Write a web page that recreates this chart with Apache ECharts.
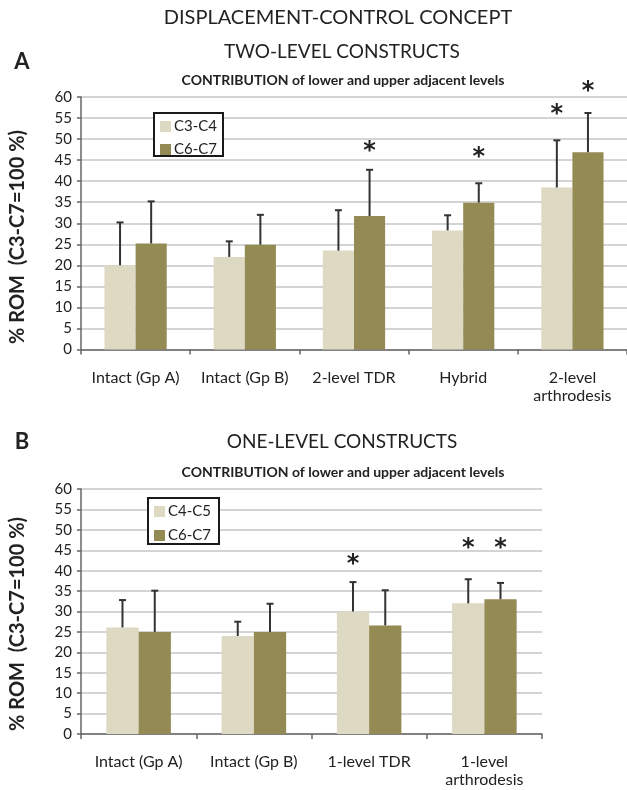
<!DOCTYPE html>
<html><head><meta charset="utf-8">
<script src="https://cdn.jsdelivr.net/npm/echarts@6/dist/echarts.min.js"></script>
<style>html,body{margin:0;padding:0;background:#fff}#c{width:627px;height:790px}</style>
</head><body><div id="c"></div>
<script>
// ---------- data ----------
const yTicks = [0, 60, 5]; // min, max, interval

const catsA = ['Intact (Gp A)', 'Intact (Gp B)', '2-level TDR', 'Hybrid', '2-level\narthrodesis'];
const a_C34 = [20.0, 22.0, 23.5, 28.3, 38.5];
const a_C34_errTop = [30.2, 25.7, 33.1, 31.9, 49.7];
const a_C67 = [25.2, 24.9, 31.7, 34.9, 46.9];
const a_C67_errTop = [35.2, 32.0, 42.7, 39.5, 56.2];
const a_C34_star = [null, null, null, null, 57.2];
const a_C67_star = [null, null, 48.5, 46.9, 62.6];

const catsB = ['Intact (Gp A)', 'Intact (Gp B)', '1-level TDR', '1-level\narthrodesis'];
const b_C45 = [26.1, 24.0, 30.0, 32.0];
const b_C45_errTop = [32.8, 27.5, 37.2, 37.9];
const b_C67 = [25.0, 25.0, 26.6, 33.0];
const b_C67_errTop = [35.1, 31.9, 35.2, 37.0];
const b_C45_star = [null, null, 42.9, 46.8];
const b_C67_star = [null, null, null, 46.8];

// ---------- style ----------
const FONT = 'Lato, "Open Sans", sans-serif';
const LIGHT = '#DDD9C3', DARK = '#948A54';
const GAP_A = 0.43, GAP_B = 0.44;
const AXIS_COL = '#666', GRID_COL = '#c6c6c6', TXT = '#222';

function errSeries(axisIdx, vals, tops, side, gap) {
  return {
    type: 'custom', xAxisIndex: axisIdx, yAxisIndex: axisIdx, z: 5,
    data: vals.map((v, i) => [i, v, tops[i]]),
    encode: { x: 0, y: [1, 2] },
    renderItem(params, api) {
      const i = api.value(0);
      const b = api.coord([i, api.value(1)]);
      const t = api.coord([i, api.value(2)]);
      const bw = api.size([1, 0])[0];
      const barW = bw * (1 - gap) / 2;
      const x = b[0] + side * barW / 2;
      const st = { stroke: '#333', lineWidth: 2 };
      return { type: 'group', children: [
        { type: 'line', shape: { x1: x, y1: b[1], x2: x, y2: t[1] }, style: st },
        { type: 'line', shape: { x1: x - 3.5, y1: t[1], x2: x + 3.5, y2: t[1] }, style: st }
      ]};
    }
  };
}
function starSeries(axisIdx, stars, side, gap) {
  const d = [];
  stars.forEach((v, i) => { if (v != null) d.push([i, v]); });
  return {
    type: 'custom', xAxisIndex: axisIdx, yAxisIndex: axisIdx, z: 6, clip: false,
    data: d, encode: { x: 0, y: 1 },
    renderItem(params, api) {
      const i = api.value(0);
      const p = api.coord([i, api.value(1)]);
      const bw = api.size([1, 0])[0];
      const barW = bw * (1 - gap) / 2;
      const x = p[0] + side * barW / 2;
      return { type: 'text', x: x, y: p[1] - 6,
        style: { text: '*', fill: '#222', font: 'bold 24px "DejaVu Sans"', align: 'center', verticalAlign: 'top' } };
    }
  };
}
function xAx(idx, cats) {
  return { type: 'category', gridIndex: idx, data: cats,
    axisLine: { show: true, lineStyle: { color: AXIS_COL, width: 1.5 } },
    axisTick: { show: true, length: 5, interval: 0, lineStyle: { color: AXIS_COL, width: 1.5 } },
    axisLabel: { interval: 0, margin: 19, fontFamily: FONT, fontSize: 16, color: TXT, lineHeight: 18 },
    splitLine: { show: false } };
}
function yAx(idx) {
  return { type: 'value', gridIndex: idx, min: yTicks[0], max: yTicks[1], interval: yTicks[2],
    axisLine: { show: true, lineStyle: { color: AXIS_COL, width: 1.5 } },
    axisTick: { show: true, length: 4, lineStyle: { color: AXIS_COL, width: 1.5 } },
    axisLabel: { margin: 9, fontFamily: FONT, fontSize: 15, color: TXT },
    splitLine: { show: true, lineStyle: { color: GRID_COL, width: 1.5 } } };
}
function txt(text, x, y, font, extra) {
  return Object.assign({ type: 'text', x: x, y: y, z: 100,
    style: { text: text, font: font, fill: TXT, align: 'center', verticalAlign: 'middle' } }, extra || {});
}
function box(id, x, y, w, h) {
  return { type: 'rect', id: id, z: 45, zlevel: 0, silent: true, shape: { x: x, y: y, width: w, height: h },
    style: { fill: '#ffffff', stroke: '#1a1a1a', lineWidth: 2 } };
}
function legend(id, names, left, top, gap) {
  return {
    id: id, data: names, left: left, top: top, z: 50,
    orient: 'vertical', icon: 'rect', itemWidth: 11, itemHeight: 11, itemGap: gap,
    padding: 0, borderWidth: 0,
    textStyle: { fontFamily: FONT, fontSize: 15, color: TXT, padding: [0, 0, 0, -2] },
    selectedMode: false
  };
}

const chart = echarts.init(document.getElementById('c'), null, { renderer: 'canvas' });
chart.setOption({
  animation: false,
  backgroundColor: '#fff',
  grid: [
    { left: 81, right: 0, top: 97, bottom: 440.5, containLabel: false, outerBoundsMode: 'none' },
    { left: 81, right: 85, top: 489, bottom: 56, containLabel: false, outerBoundsMode: 'none' }
  ],
  xAxis: [xAx(0, catsA), xAx(1, catsB)],
  yAxis: [yAx(0), yAx(1)],
  legend: [
    legend('legA', ['C3-C4', 'C6-C7'], 160, 119, 8),
    legend('legB', ['C4-C5', 'C6-C7'], 154, 504, 9)
  ],
  graphic: [
    box('boxA', 154, 113, 69, 43),
    box('boxB', 148, 498, 71, 46),
    txt('DISPLACEMENT-CONTROL CONCEPT', 338, 18, '20px ' + FONT),
    txt('A', 22, 62, 'bold 22px ' + FONT),
    txt('TWO-LEVEL CONSTRUCTS', 342, 52, '19px ' + FONT),
    txt('CONTRIBUTION of lower and upper adjacent levels', 343, 80, 'bold 14px ' + FONT),
    txt('% ROM  (C3-C7=100 %)', 18, 237, 'bold 20px ' + FONT, { rotation: Math.PI / 2 }),
    txt('B', 22, 442, 'bold 22px ' + FONT),
    txt('ONE-LEVEL CONSTRUCTS', 342, 442, '19px ' + FONT),
    txt('CONTRIBUTION of lower and upper adjacent levels', 343, 472, 'bold 14px ' + FONT),
    txt('% ROM  (C3-C7=100 %)', 18, 624, 'bold 20px ' + FONT, { rotation: Math.PI / 2 })
  ],
  series: [
    { name: 'C3-C4', type: 'bar', xAxisIndex: 0, yAxisIndex: 0, data: a_C34, itemStyle: { color: LIGHT }, barGap: '0%', barCategoryGap: (GAP_A * 100) + '%' },
    { name: 'C6-C7', type: 'bar', xAxisIndex: 0, yAxisIndex: 0, data: a_C67, itemStyle: { color: DARK }, barGap: '0%', barCategoryGap: (GAP_A * 100) + '%' },
    { name: 'C4-C5', type: 'bar', xAxisIndex: 1, yAxisIndex: 1, data: b_C45, itemStyle: { color: LIGHT }, barGap: '0%', barCategoryGap: (GAP_B * 100) + '%' },
    { name: 'C6-C7', type: 'bar', xAxisIndex: 1, yAxisIndex: 1, data: b_C67, itemStyle: { color: DARK }, barGap: '0%', barCategoryGap: (GAP_B * 100) + '%' },
    errSeries(0, a_C34, a_C34_errTop, -1, GAP_A),
    errSeries(0, a_C67, a_C67_errTop, 1, GAP_A),
    errSeries(1, b_C45, b_C45_errTop, -1, GAP_B),
    errSeries(1, b_C67, b_C67_errTop, 1, GAP_B),
    starSeries(0, a_C34_star, -1, GAP_A),
    starSeries(0, a_C67_star, 1, GAP_A),
    starSeries(1, b_C45_star, -1, GAP_B),
    starSeries(1, b_C67_star, 1, GAP_B)
  ]
});
</script></body></html>
